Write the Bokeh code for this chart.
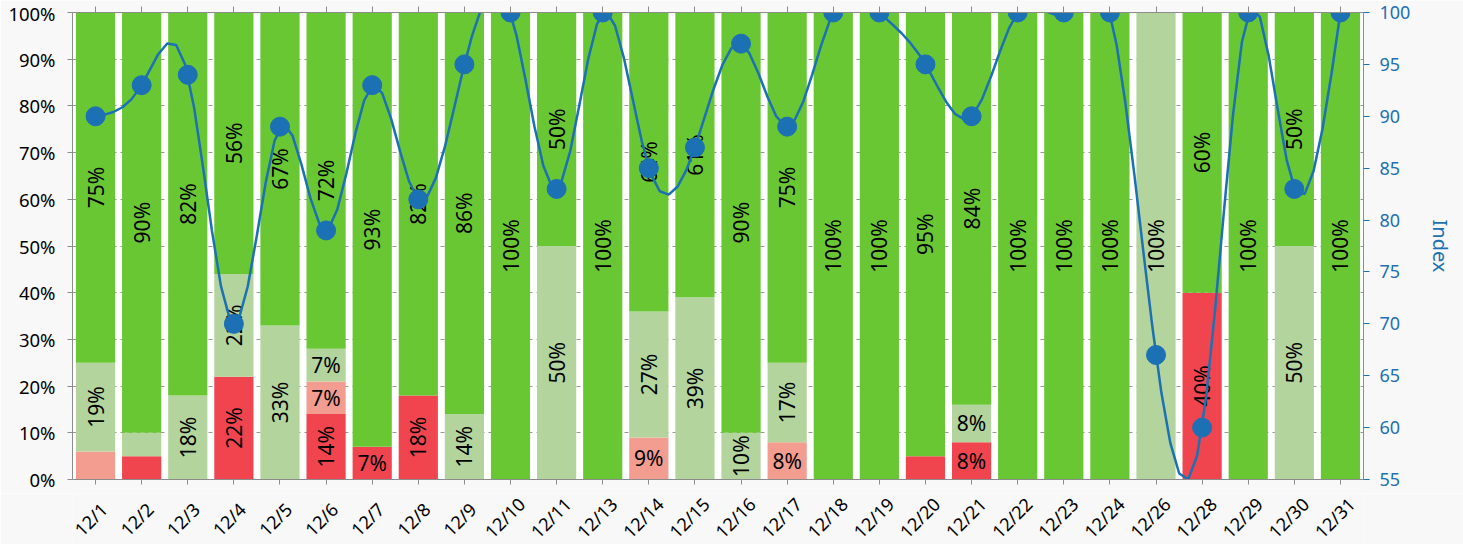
import math
import numpy as np
from bokeh.plotting import figure
from bokeh.layouts import column
from bokeh.models import (ColumnDataSource, FactorRange, Range1d, LinearAxis,
                          CategoricalAxis, FixedTicker, PrintfTickFormatter)
from bokeh.core.properties import value
from bokeh.embed import file_html
from bokeh.resources import INLINE

# ---------------- data ----------------
dates = ["12/1", "12/2", "12/3", "12/4", "12/5", "12/6", "12/7", "12/8", "12/9", "12/10",
         "12/11", "12/13", "12/14", "12/15", "12/16", "12/17", "12/18", "12/19", "12/20",
         "12/21", "12/22", "12/23", "12/24", "12/26", "12/28", "12/29", "12/30", "12/31"]
red        = [0, 5, 0, 22, 0, 14, 7, 18, 0, 0, 0, 0, 0, 0, 0, 0, 0, 0, 5, 8, 0, 0, 0, 0, 40, 0, 0, 0]
salmon     = [6, 0, 0, 0, 0, 7, 0, 0, 0, 0, 0, 0, 9, 0, 0, 8, 0, 0, 0, 0, 0, 0, 0, 0, 0, 0, 0, 0]
lightgreen = [19, 5, 18, 22, 33, 7, 0, 0, 14, 0, 50, 0, 27, 39, 10, 17, 0, 0, 0, 8, 0, 0, 0, 100, 0, 0, 50, 0]
green      = [75, 90, 82, 56, 67, 72, 93, 82, 86, 100, 50, 100, 64, 61, 90, 75, 100, 100, 95,
              84, 100, 100, 100, 0, 60, 100, 50, 100]
index_vals = [90, 93, 94, 70, 89, 79, 93, 82, 95, 100, 83, 100, 85, 87, 97, 89, 100, 100, 95,
              90, 100, 100, 100, 67, 60, 100, 83, 100]
pct_ticks = [0, 10, 20, 30, 40, 50, 60, 70, 80, 90, 100]
index_ticks = [55, 60, 65, 70, 75, 80, 85, 90, 95, 100]

series_names = ["red", "salmon", "lightgreen", "green"]
series_vals = [red, salmon, lightgreen, green]
colors = ["#f0454f", "#f29d8f", "#b3d49c", "#69c734"]
BLUE = "#1c70b4"
GRAY = "#8c8c8c"
BG = "#f8f8f8"
FONT = "Noto Sans"

# ---------------- layout constants ----------------
W_TOTAL = 1463
H_TOTAL = 544
LEFT, RIGHT, TOP = 72, 100, 12
FRAME_H = 467
MAIN_BOTTOM = 14
MAIN_H = TOP + FRAME_H + MAIN_BOTTOM
LAB_H = H_TOTAL - MAIN_H

# ---------------- main figure ----------------
p = figure(x_range=FactorRange(*dates), y_range=Range1d(0, 100),
           width=W_TOTAL, height=MAIN_H, output_backend="svg", toolbar_location=None,
           min_border_left=LEFT, min_border_right=RIGHT, min_border_top=TOP,
           min_border_bottom=MAIN_BOTTOM)
p.border_fill_color = BG
p.background_fill_color = "white"
p.outline_line_color = None

src = ColumnDataSource(dict(x=dates, **{n: v for n, v in zip(series_names, series_vals)}))
p.vbar_stack(series_names, x="x", width=0.85, color=colors, line_color=None, source=src)

# segment labels
lx, ly, lt, la = [], [], [], []
for i, d in enumerate(dates):
    base = 0
    for vals in series_vals:
        v = vals[i]
        if v >= 7:
            lx.append(d)
            ly.append(base + v / 2)
            lt.append(f"{v}%")
            la.append(0.0 if v < 10 else math.pi / 2)
        base += v
p.text(x=lx, y=ly, text=lt, angle=la, text_font=value(FONT), text_font_size="21px",
       text_align="center", text_baseline="middle", text_color="black")

# index line on secondary axis (smooth natural cubic spline through the points)
p.extra_y_ranges = {"idx": Range1d(55, 100)}
xs = np.arange(len(dates)) + 0.5
ys = np.array(index_vals, dtype=float)
n = len(xs)
h = np.diff(xs)
A = np.zeros((n, n))
b = np.zeros(n)
A[0, 0] = 1
A[-1, -1] = 1
for i in range(1, n - 1):
    A[i, i - 1] = h[i - 1]
    A[i, i] = 2 * (h[i - 1] + h[i])
    A[i, i + 1] = h[i]
    b[i] = 3 * ((ys[i + 1] - ys[i]) / h[i] - (ys[i] - ys[i - 1]) / h[i - 1])
c = np.linalg.solve(A, b)
bb = (ys[1:] - ys[:-1]) / h - h * (2 * c[:-1] + c[1:]) / 3
dd = (c[1:] - c[:-1]) / (3 * h)
xq = np.linspace(xs[0], xs[-1], 140)
seg = np.clip(np.searchsorted(xs, xq, side="right") - 1, 0, n - 2)
t = xq - xs[seg]
yq = ys[seg] + bb[seg] * t + c[seg] * t ** 2 + dd[seg] * t ** 3

p.line(xq, yq, y_range_name="idx", line_color=BLUE, line_width=2.5)
p.scatter(x=dates, y=index_vals, y_range_name="idx", size=19, color=BLUE)

# grid
p.xgrid.grid_line_color = None
p.ygrid.grid_line_color = "#999999"
p.ygrid.grid_line_dash = "4 4"
p.ygrid.ticker = FixedTicker(ticks=pct_ticks)

# left axis
yl = p.yaxis[0]
yl.ticker = FixedTicker(ticks=pct_ticks)
yl.formatter = PrintfTickFormatter(format="%d%%")
yl.axis_line_color = GRAY
yl.major_tick_line_color = GRAY
yl.major_tick_out = 5
yl.major_tick_in = 0
yl.minor_tick_line_color = None
yl.major_label_text_font = FONT
yl.major_label_text_font_size = "18.5px"
yl.major_label_text_color = "black"
yl.major_label_standoff = 12

# bottom axis: line + ticks only (labels are drawn in the strip below)
xb = p.xaxis[0]
xb.axis_line_color = GRAY
xb.major_tick_line_color = GRAY
xb.major_tick_out = 5
xb.major_tick_in = 0
xb.major_label_text_color = None
xb.major_label_text_font_size = "1px"
xb.major_label_standoff = 0

# top axis (ticks only)
top = CategoricalAxis(axis_line_color=GRAY, major_tick_line_color=GRAY, major_tick_out=6,
                      major_tick_in=0, major_label_text_color=None,
                      major_label_text_font_size="1px", major_label_standoff=0)
p.add_layout(top, "above")

# right axis
right = LinearAxis(y_range_name="idx", ticker=FixedTicker(ticks=index_ticks), axis_label="Index")
right.axis_line_color = GRAY
right.major_tick_line_color = BLUE
right.major_tick_out = 6
right.major_tick_in = 0
right.minor_tick_line_color = None
right.major_label_text_font = FONT
right.major_label_text_font_size = "18px"
right.major_label_text_color = BLUE
right.major_label_standoff = 10
right.axis_label_text_font = FONT
right.axis_label_text_font_size = "20px"
right.axis_label_text_font_style = "normal"
right.axis_label_text_color = BLUE
right.axis_label_standoff = 14
p.add_layout(right, "right")

# ---------------- label strip (rotated category labels, centred under ticks) ----------------
q = figure(x_range=p.x_range, y_range=Range1d(-LAB_H, 0), width=W_TOTAL, height=LAB_H,
           output_backend="svg", toolbar_location=None,
           x_axis_location=None, y_axis_location=None,
           min_border_left=LEFT, min_border_right=RIGHT, min_border_top=0, min_border_bottom=0)
q.border_fill_color = BG
q.background_fill_color = BG
q.outline_line_color = None
q.xgrid.visible = False
q.ygrid.visible = False

fs = 18
char_w = {"/": 0.372}
lab_y, lab_dx = [], []
for d in dates:
    L = sum(char_w.get(ch, 0.572) for ch in d) * fs
    half = (L + 21) * 0.3536
    box_half = (L + 25) * 0.3536
    centre = min(19 + half, (LAB_H + MAIN_BOTTOM - 1) - box_half)  # px below frame bottom
    lab_y.append(-(centre - MAIN_BOTTOM))
    lab_dx.append(-(0.1 * L + 1))
lab_src = ColumnDataSource(dict(x=dates, y=lab_y, text=dates, dx=lab_dx))
q.text(x="x", y="y", text="text", x_offset="dx", source=lab_src, angle=math.pi / 4,
       text_font=value(FONT), text_font_size=f"{fs}px", text_align="center",
       text_baseline="middle", text_color="black")

layout = column(p, q, spacing=0)
open("out.html", "w").write(file_html(layout, INLINE))
